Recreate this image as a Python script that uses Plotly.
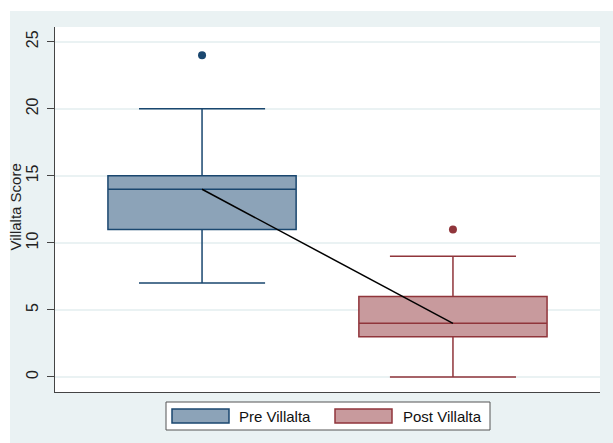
import plotly.graph_objects as go

# Villalta score summary statistics by group
groups = ["Pre Villalta", "Post Villalta"]
q1 = [11, 3]
median = [14, 4]
q3 = [15, 6]
lower_fence = [7, 0]
upper_fence = [20, 9]
outliers = [[24], [11]]
y_ticks = [0, 5, 10, 15, 20, 25]
y_title = "Villalta Score"

line_colors = ["#1a476f", "#90353b"]
fill_colors = ["#8ca3b8", "#c89a9d"]

W, H = 613, 443
ML, MR, MT, MB = 55, 13, 27, 51
PW, PH = W - ML - MR, H - MT - MB


def px_x(p):
    return (p - ML) / PW


def px_y(p):
    return (H - MB - p) / PH


fig = go.Figure()

for i, name in enumerate(groups):
    fig.add_trace(go.Box(
        x=[i], q1=[q1[i]], median=[median[i]], q3=[q3[i]],
        lowerfence=[lower_fence[i]], upperfence=[upper_fence[i]],
        name=name, width=0.75, whiskerwidth=0.67,
        fillcolor=fill_colors[i],
        line=dict(color=line_colors[i], width=1.5),
        boxpoints=False, showlegend=False, hoverinfo="skip",
    ))
    fig.add_trace(go.Scatter(
        x=[i] * len(outliers[i]), y=outliers[i], mode="markers",
        marker=dict(color=line_colors[i], size=8),
        showlegend=False, hoverinfo="skip",
    ))

# line joining the two medians
fig.add_trace(go.Scatter(
    x=list(range(len(groups))), y=median, mode="lines",
    line=dict(color="black", width=1.5), showlegend=False, hoverinfo="skip",
))

shapes = [
    # outer light background panel
    dict(type="rect", xref="paper", yref="paper", layer="below",
         x0=px_x(10), x1=px_x(W + 5), y0=px_y(H + 5), y1=px_y(11),
         fillcolor="#eaf2f3", line=dict(width=0)),
    # white plot region
    dict(type="rect", xref="paper", yref="paper", layer="below",
         x0=0, x1=1, y0=0, y1=1, fillcolor="white", line=dict(width=0)),
    # legend frame
    dict(type="rect", xref="paper", yref="paper",
         x0=px_x(166), x1=px_x(490), y0=px_y(430), y1=px_y(402),
         fillcolor="white", line=dict(color="#555555", width=1)),
]
annotations = [
    # y-axis title
    dict(text=y_title, xref="paper", yref="paper", x=px_x(24), y=px_y(207),
         xanchor="right", yanchor="middle", textangle=-90, showarrow=False,
         borderpad=0, font=dict(size=15, color="#222222")),
]
swatch_x = [172, 335]
text_x = [237, 401]
for i, name in enumerate(groups):
    shapes.append(dict(
        type="rect", xref="paper", yref="paper",
        x0=px_x(swatch_x[i]), x1=px_x(swatch_x[i] + 57),
        y0=px_y(423), y1=px_y(409),
        fillcolor=fill_colors[i], line=dict(color=line_colors[i], width=1.5),
    ))
    annotations.append(dict(
        text=name, xref="paper", yref="paper", x=px_x(text_x[i]), y=px_y(416),
        xanchor="left", yanchor="middle", showarrow=False,
        font=dict(size=15, color="#111111"),
    ))

fig.update_layout(
    width=W, height=H,
    margin=dict(l=ML, r=MR, t=MT, b=MB),
    paper_bgcolor="white", plot_bgcolor="white",
    font=dict(family="Liberation Sans, Arial, sans-serif", size=15, color="#222222"),
    showlegend=False,
    shapes=shapes, annotations=annotations,
    xaxis=dict(range=[-0.586, 1.586], showticklabels=False, ticks="",
               showgrid=False, zeroline=False, showline=True,
               linecolor="#444444", linewidth=1, mirror=False,
               automargin=False),
    yaxis=dict(range=[-1.12, 26.1], tickvals=y_ticks,
               tickangle=-90, ticks="outside", ticklen=7, tickcolor="#444444",
               ticklabelstandoff=3, automargin=False,
               showgrid=True, gridcolor="#eaf2f3", gridwidth=1.5,
               zeroline=False, showline=True, linecolor="#444444", linewidth=1,
               tickfont=dict(size=16)),
)

fig.write_html("out.html")
